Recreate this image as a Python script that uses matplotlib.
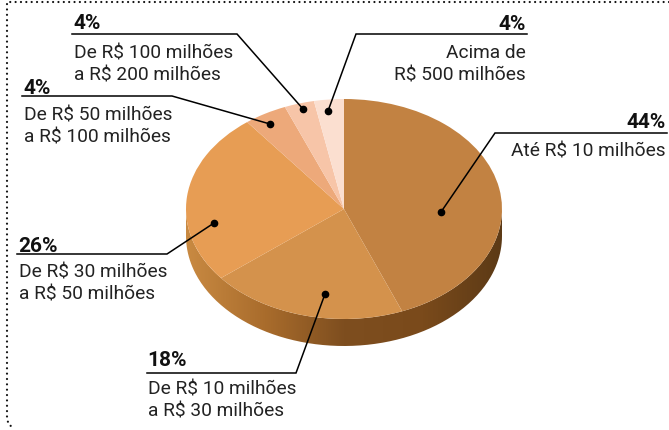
import numpy as np
import matplotlib
matplotlib.use("Agg")
import matplotlib.pyplot as plt
from matplotlib.colors import LinearSegmentedColormap
from matplotlib.patches import PathPatch
from matplotlib.path import Path
from matplotlib.transforms import Affine2D

plt.rcParams["font.family"] = ["Roboto", "DejaVu Sans"]

percent_labels = ["44%", "18%", "26%", "4%", "4%", "4%"]
range_labels = [
    ["Até R$ 10 milhões"],
    ["De R$ 10 milhões", "a R$ 30 milhões"],
    ["De R$ 30 milhões", "a R$ 50 milhões"],
    ["De R$ 50 milhões", "a R$ 100 milhões"],
    ["De R$ 100 milhões", "a R$ 200 milhões"],
    ["Acima de", "R$ 500 milhões"],
]
# slice widths as drawn in the picture, they do not follow the printed percentages
slice_shares = [44, 20.2, 25.3, 4.4, 3.05, 3.05]
slice_colors = ["#c28242", "#d4924c", "#e79d54", "#eda97a", "#f7c5a8", "#fbdfd0"]

fig = plt.figure(figsize=(6.69, 4.31), dpi=100)
ax = fig.add_axes([0, 0, 1, 1])

cx, cy, rx, ry, depth = 344, 210, 158, 110, 27

# side of the disc
t = np.linspace(0, np.pi, 200)
low_x = cx + rx * np.cos(t)
low_y = cy + ry * np.sin(t)
rim_xy = np.r_[np.c_[low_x, low_y + depth], np.c_[low_x[::-1], low_y[::-1]]]
rim = PathPatch(Path(rim_xy), fc="none", ec="none")
ax.add_patch(rim)
rim_cmap = LinearSegmentedColormap.from_list(
    "rim", ["#c98a42", "#a96c2c", "#7e4e1f", "#7a4a1b", "#5c3a16"])
img = ax.imshow(np.linspace(0, 1, 256)[None, :], cmap=rim_cmap, aspect="auto",
                extent=(cx - rx, cx + rx, cy + ry + depth, cy))
img.set_clip_path(rim)

# top of the disc
wedges, _ = ax.pie(slice_shares, colors=slice_colors, startangle=90,
                   counterclock=False, wedgeprops={"linewidth": 0})
squash = Affine2D().scale(rx, -ry).translate(cx, cy) + ax.transData
for w in wedges:
    w.set_transform(squash)

# dotted frame
ax.plot([669, 7, 7, 9, 13], [3, 3, 420, 426, 428], color="#111111", lw=1.6,
        ls=(0, (0.01, 2.4)), dash_capstyle="round")

# index, anchor, alignment, percent baseline, range baselines, leader path
callouts = [
    (0, 666, "right", 128, [157], [(667, 134), (495, 134), (441, 213)]),
    (1, 147, "left", 366, [395, 417], [(147, 374), (296, 374), (325, 295)]),
    (2, 18, "left", 252, [278, 300], [(17, 255), (167, 255), (214, 224)]),
    (3, 23, "left", 94, [121, 143], [(22, 97), (172, 97), (270, 125)]),
    (4, 73, "left", 29, [58, 80], [(72, 35), (237, 35), (303, 110)]),
    (5, 526, "right", 30, [58, 80], [(527, 35), (356, 35), (328, 112)]),
]
for i, x, ha, y_pct, y_lines, path in callouts:
    xs, ys = zip(*path)
    ax.plot(xs, ys, color="black", lw=1.1, solid_joinstyle="miter")
    ax.plot(xs[-1], ys[-1], "o", color="black", ms=4.5)
    ax.text(x, y_pct, percent_labels[i], ha=ha, va="baseline",
            fontsize=15, fontweight="bold", color="#111111")
    for line, y in zip(range_labels[i], y_lines):
        ax.text(x + (1 if ha == "left" else 0), y, line, ha=ha, va="baseline",
                fontsize=13.8, color="#222222")

ax.set_xlim(0, 669)
ax.set_ylim(431, 0)
ax.set_aspect("auto")
ax.axis("off")
fig.savefig("out.png", dpi=100)
